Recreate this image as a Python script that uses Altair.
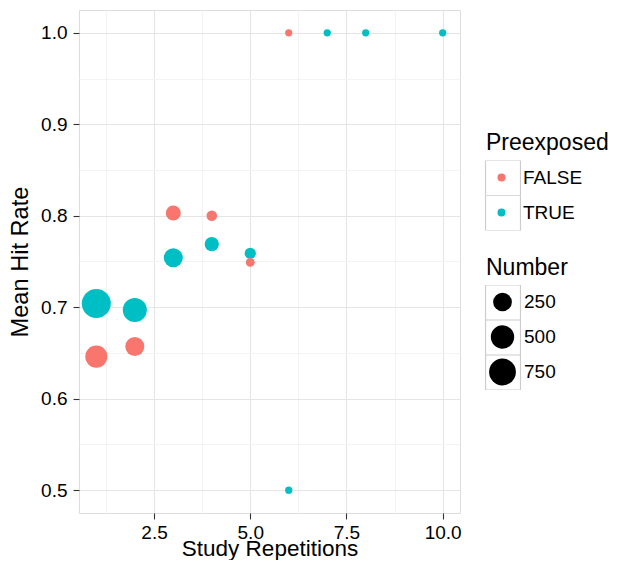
import altair as alt
import pandas as pd

# ---- data ----
pre_labels = ["FALSE", "TRUE"]
pre_colors = ["#F8766D", "#00BFC4"]

rep_true = [1, 2, 3, 4, 5, 6, 7, 8, 10]
hit_true = [0.704, 0.697, 0.754, 0.769, 0.759, 0.5, 1.0, 1.0, 1.0]
num_true = [950, 543, 263, 100, 38, 1, 1, 1, 1]

rep_false = [1, 2, 3, 4, 5, 6]
hit_false = [0.646, 0.657, 0.803, 0.800, 0.749, 1.0]
num_false = [419, 263, 120, 29, 10, 1]

x_major = [2.5, 5.0, 7.5, 10.0]
x_minor = [1.25, 3.75, 6.25, 8.75]
y_major = [0.5, 0.6, 0.7, 0.8, 0.9, 1.0]
y_minor = [0.55, 0.65, 0.75, 0.85, 0.95]
size_breaks = [250, 500, 750]
pre_codes = [0, 1]  # FALSE, TRUE (used only for the legend key boxes)

rows = []
for r, h, n in zip(rep_true, hit_true, num_true):
    rows.append({"Study Repetitions": r, "Mean Hit Rate": h, "Number": n, "Preexposed": "TRUE"})
for r, h, n in zip(rep_false, hit_false, num_false):
    rows.append({"Study Repetitions": r, "Mean Hit Rate": h, "Number": n, "Preexposed": "FALSE"})
df = pd.DataFrame(rows)

FONT = "Liberation Sans"
MAJOR = "#E5E5E5"
MINOR = "#F3F3F3"
KEY_BORDER = "#CCCCCC"

x_test = "abs(datum.value/2.5 - round(datum.value/2.5)) < 0.01"
y_test = "abs(datum.value*10 - round(datum.value*10)) < 0.01"

x_axis = alt.Axis(
    values=sorted(x_major + x_minor),
    labelExpr=f"({x_test}) ? format(datum.value, '.1f') : ''",
    labelOverlap=False,
    grid=True,
    gridColor={"condition": {"test": x_test, "value": MAJOR}, "value": MINOR},
    gridWidth=1.1,
    tickOpacity={"condition": {"test": x_test, "value": 1}, "value": 0},
    tickColor="#333333",
    tickSize=6,
    tickWidth=1.1,
    domain=False,
    labelFont=FONT,
    labelFontSize=19,
    labelColor="black",
    labelPadding=4,
    title="Study Repetitions",
    titleFont=FONT,
    titleFontSize=22.5,
    titleFontWeight="normal",
    titleColor="black",
    titleBaseline="alphabetic",
    titleX=190.5,
    titleY=42,
)

y_axis = alt.Axis(
    values=sorted(y_major + y_minor),
    labelExpr=f"({y_test}) ? format(datum.value, '.1f') : ''",
    labelOverlap=False,
    grid=True,
    gridColor={"condition": {"test": y_test, "value": MAJOR}, "value": MINOR},
    gridWidth=1.1,
    tickOpacity={"condition": {"test": y_test, "value": 1}, "value": 0},
    tickColor="#333333",
    tickSize=6,
    tickWidth=1.1,
    domain=False,
    labelFont=FONT,
    labelFontSize=19,
    labelColor="black",
    labelPadding=6,
    title="Mean Hit Rate",
    titleFont=FONT,
    titleFontSize=23.6,
    titleFontWeight="normal",
    titleColor="black",
    titleBaseline="alphabetic",
    titleX=-52,
    titleY=251.5,
)

legend_common = dict(
    orient="none",
    titleFont=FONT,
    titleFontSize=23,
    titleFontWeight="normal",
    titleColor="black",
    titlePadding=5,
    labelFont=FONT,
    labelFontSize=19,
    labelColor="black",
    clipHeight=35,
    rowPadding=0,
    padding=0,
)

# key boxes (ggplot-style legend key borders), drawn as extra legends without text
box_common = dict(
    orient="none",
    title=None,
    labelExpr="''",
    symbolType="square",
    symbolSize=1225,
    symbolFillColor="transparent",
    symbolStrokeColor=KEY_BORDER,
    symbolStrokeWidth=1.2,
    symbolOffset=0,
    clipHeight=35,
    rowPadding=0,
    padding=0,
    labelOffset=0,
)

x_enc = alt.X("Study Repetitions:Q", scale=alt.Scale(domain=[0.55, 10.45], nice=False, zero=False), axis=x_axis)
y_enc = alt.Y("Mean Hit Rate:Q", scale=alt.Scale(domain=[0.475, 1.025], nice=False, zero=False), axis=y_axis)

base = alt.Chart(df).transform_calculate(
    key_pre="datum.Preexposed == 'TRUE' ? 1 : 0",
    key_num="datum.Number",
)

points = base.mark_circle(opacity=1).encode(
    x=x_enc,
    y=y_enc,
    color=alt.Color(
        "Preexposed:N",
        scale=alt.Scale(domain=pre_labels, range=pre_colors),
        legend=alt.Legend(
            title="Preexposed",
            legendX=407,
            legendY=122,
            symbolSize=64,
            symbolType="circle",
            symbolStrokeWidth=0,
            symbolOffset=6,
            labelOffset=12,
            **legend_common,
        ),
    ),
    size=alt.Size(
        "Number:Q",
        scale=alt.Scale(type="pow", exponent=0.72, domain=[1, 950], range=[53, 841]),
        legend=alt.Legend(
            title="Number",
            values=size_breaks,
            legendX=407,
            legendY=246.5,
            symbolType="circle",
            symbolFillColor="black",
            symbolStrokeWidth=0,
            symbolOpacity=1,
            symbolOffset=3,
            labelOffset=8,
            **legend_common,
        ),
    ),
    opacity=alt.Opacity(
        "key_num:Q",
        scale=alt.Scale(range=[1, 1]),
        legend=alt.Legend(values=size_breaks, legendX=405.5, legendY=275, **box_common),
    ),
)

# invisible helper layer that only carries the key boxes of the colour legend
boxes = base.mark_circle(size=0, color="transparent").encode(
    x=x_enc,
    y=y_enc,
    opacity=alt.Opacity(
        "key_pre:Q",
        scale=alt.Scale(domain=[0, 1], range=[1, 1]),
        legend=alt.Legend(values=pre_codes, legendX=405.5, legendY=150.5, **box_common),
    ),
)

chart = (
    alt.layer(points, boxes)
    .resolve_scale(opacity="independent")
    .resolve_legend(opacity="independent")
    .properties(
        width=381,
        height=503,
        autosize=alt.AutoSizeParams(type="none"),
        padding={"left": 71, "top": 2, "right": 150, "bottom": 47},
    )
    .configure_view(stroke="#7F7F7F", strokeWidth=1.2)
    .configure(font=FONT)
)

chart.save("out.html", embed_options={"renderer": "svg", "actions": False})
